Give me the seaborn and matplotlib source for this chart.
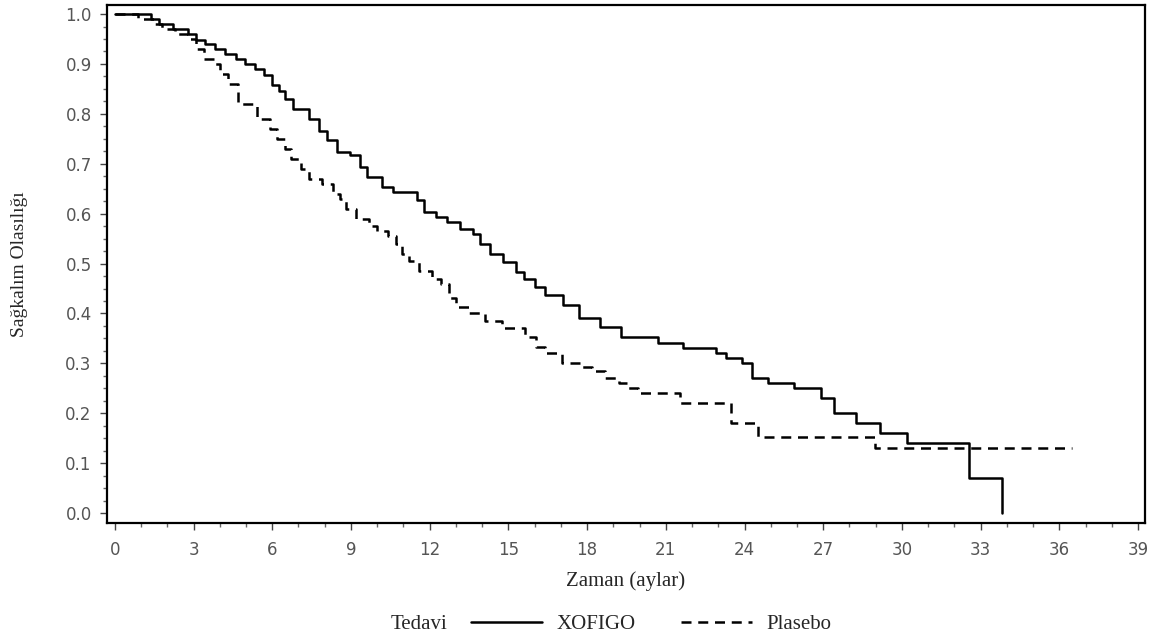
import matplotlib
matplotlib.use("Agg")
import matplotlib.pyplot as plt
import pandas as pd
import seaborn as sns
from matplotlib.ticker import MultipleLocator
from matplotlib.lines import Line2D

# Kaplan-Meier steps (time in months, survival after the step)
xofigo_time = [0, 1.37, 1.7, 2.2, 2.8, 3.1, 3.45, 3.8, 4.2, 4.6, 4.95, 5.35, 5.7, 6.0,
               6.25, 6.5, 6.8, 7.4, 7.8, 8.07, 8.45, 8.96, 9.34, 9.6, 10.17, 10.6,
               11.5, 11.8, 12.26, 12.65, 13.15, 13.65, 13.9, 14.3, 14.8, 15.3, 15.6,
               16.0, 16.4, 17.1, 17.7, 18.5, 19.3, 20.7, 21.65, 22.9, 23.3, 23.9,
               24.27, 24.9, 25.9, 26.9, 27.4, 28.25, 29.17, 30.2, 32.56, 33.8]
xofigo_surv = [1.0, 0.99, 0.98, 0.97, 0.96, 0.948, 0.939, 0.93, 0.92, 0.91, 0.90, 0.89,
               0.877, 0.858, 0.845, 0.83, 0.81, 0.79, 0.765, 0.747, 0.724, 0.717, 0.694,
               0.674, 0.654, 0.644, 0.627, 0.604, 0.594, 0.584, 0.57, 0.56, 0.54, 0.52,
               0.504, 0.484, 0.47, 0.454, 0.437, 0.417, 0.39, 0.372, 0.353, 0.341, 0.33,
               0.321, 0.311, 0.301, 0.271, 0.261, 0.25, 0.23, 0.201, 0.18, 0.161, 0.141,
               0.071, 0.0]

plasebo_time = [0, 0.9, 1.5, 1.8, 2.3, 2.8, 3.1, 3.4, 3.8, 4.0, 4.3, 4.7, 5.4, 5.9, 6.2,
                6.5, 6.7, 7.1, 7.4, 7.9, 8.3, 8.6, 8.8, 9.2, 9.7, 10.0, 10.4, 10.7,
                10.95, 11.2, 11.6, 12.1, 12.45, 12.75, 13.0, 13.5, 14.1, 14.75, 15.65,
                16.05, 16.4, 17.05, 17.8, 18.2, 18.7, 19.2, 19.55, 19.95, 21.55, 23.47,
                24.5, 28.97, 36.47]
plasebo_surv = [1.0, 0.99, 0.98, 0.97, 0.96, 0.95, 0.93, 0.91, 0.90, 0.88, 0.86, 0.82,
                0.79, 0.77, 0.75, 0.73, 0.71, 0.69, 0.67, 0.66, 0.64, 0.63, 0.61, 0.59,
                0.575, 0.565, 0.555, 0.54, 0.52, 0.505, 0.485, 0.47, 0.46, 0.43, 0.413,
                0.40, 0.385, 0.37, 0.353, 0.333, 0.32, 0.30, 0.293, 0.285, 0.27, 0.26,
                0.25, 0.24, 0.22, 0.18, 0.152, 0.131, 0.131]

df = pd.concat([
    pd.DataFrame({"t": xofigo_time, "s": xofigo_surv, "grp": "XOFIGO"}),
    pd.DataFrame({"t": plasebo_time, "s": plasebo_surv, "grp": "Plasebo"}),
], ignore_index=True)

sns.set_style("ticks")
plt.rcParams["font.family"] = ["DejaVu Sans"]
serif = ["Liberation Serif", "DejaVu Serif"]
tick_grey = "#555555"

fig = plt.figure(figsize=(11.6, 6.34), dpi=100)
ax = fig.add_axes([0.0922, 0.175, 0.895, 0.817])

dash = (4.0, 2.7)
sns.lineplot(data=df, x="t", y="s", hue="grp", style="grp",
             palette={"XOFIGO": "black", "Plasebo": "black"},
             dashes={"XOFIGO": "", "Plasebo": dash},
             estimator=None, sort=False, drawstyle="steps-post",
             linewidth=1.8, legend=False, ax=ax)

ax.set_xlim(-0.3, 39.27)
ax.set_ylim(-0.02, 1.018)
ax.xaxis.set_major_locator(MultipleLocator(3))
ax.xaxis.set_minor_locator(MultipleLocator(1))
ax.yaxis.set_major_locator(MultipleLocator(0.1))
ax.yaxis.set_minor_locator(MultipleLocator(0.025))
ax.yaxis.set_major_formatter(plt.FuncFormatter(lambda v, p: f"{v:.1f}"))

for sp in ax.spines.values():
    sp.set_linewidth(1.6)
    sp.set_color("black")
ax.tick_params(which="major", length=5, width=1, colors="#444444",
               labelcolor=tick_grey, labelsize=12)
ax.tick_params(which="minor", length=3, width=1, colors="#666666")
ax.tick_params(axis="x", which="major", pad=8)
ax.tick_params(axis="y", which="major", pad=6)

ax.set_xlabel("Zaman (aylar)", family=serif, fontsize=15, labelpad=9)
ax.set_ylabel("Sağkalım Olasılığı", family=serif, fontsize=14, labelpad=27)

# legend row at the bottom
row_y = 0.015
fig.text(0.361, row_y, "Tedavi", family=serif, fontsize=15, ha="center", va="center")
handles = [Line2D([], [], color="black", lw=1.8),
           Line2D([], [], color="black", lw=1.8, dashes=dash)]
fig.legend(handles, ["XOFIGO", "Plasebo"], loc="center left",
           bbox_to_anchor=(0.395, row_y), ncol=2, frameon=False, borderpad=0.1,
           handlelength=3.4, handletextpad=0.7, columnspacing=2.2,
           prop={"family": serif, "size": 15})

fig.savefig("out.png", dpi=100)
